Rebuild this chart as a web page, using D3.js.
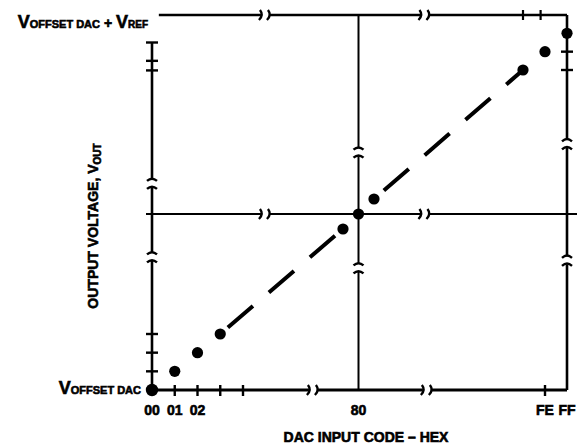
<!DOCTYPE html>
<html>
<head>
<meta charset="utf-8">
<script src="https://cdn.jsdelivr.net/npm/d3@7"></script>
<style>
  body { margin: 0; background: #fff; }
  svg text { font-family: "Liberation Sans", Arial, sans-serif; font-weight: bold; fill: #000;
             stroke: #000; stroke-width: 0.6px; }
</style>
</head>
<body>
<div id="chart"></div>
<script>
// ---------------------------
// DATA (codes in hex, output level in LSB)
// ---------------------------
const dotCodes = [0x00, 0x01, 0x02, 0x03, 0x7F, 0x80, 0x81, 0xFD, 0xFE, 0xFF];
const dashRuns = [[0x03, 0x7F], [0x81, 0xFD]];

const xLabelCodes = [0x00, 0x01, 0x02, 0x80, 0xFE, 0xFF];
const xLabelText = ["00", "01", "02", "80", "FE", "FF"];

const bottomTickCodes = [0x01, 0x02, 0x03, 0x04, 0xFE];
const topTickCodes = [253, 253.8];
const leftTickLevels = [1, 2, 3, 252.6, 253.5, 254.5];
const rightTickLevels = [253, 254];

// axis break positions (code / level units)
const topBreaks = [31, 171];
const midBreaks = [31, 171];
const bottomBreaks = [90, 173];
const leftBreaks = [94, 144];
const rightBreaks = [90, 182];
const centerBreaks = [81, 174];

const fullScale = 0x100;
const midCode = 0x80;

// ---------------------------
// LAYOUT
// ---------------------------
const width = 587, height = 446;

const svg = d3.select("#chart").append("svg")
  .attr("width", width)
  .attr("height", height);

// broken (piecewise) scales
const x = d3.scaleLinear()
  .domain([0, 4, 0x7F, 0x81, 0xFD, 0xFF])
  .range([152, 243, 343, 374, 523, 567]);

const y = d3.scaleLinear()
  .domain([0, 3, 0x7F, 0x81, 0xFD, fullScale])
  .range([390, 334, 229, 199, 70, 15]);

const g = svg.append("g");

// ---------------------------
// HELPERS
// ---------------------------
const gap = 4;

// horizontal line at py from x0 to x1, split at break positions (px)
function hLine(py, x0, x1, breaksPx, sw) {
  const pts = [x0];
  breaksPx.forEach(b => { pts.push(b - gap, b + gap); });
  pts.push(x1);
  for (let i = 0; i < pts.length; i += 2) {
    g.append("line")
      .attr("x1", pts[i]).attr("x2", pts[i + 1])
      .attr("y1", py).attr("y2", py)
      .attr("stroke", "#000").attr("stroke-width", sw);
  }
  breaksPx.forEach(b => {
    [-gap, gap].forEach(d => {
      g.append("path")
        .attr("d", `M${b + d - 2},${py + 5} Q${b + d + 3},${py} ${b + d - 1},${py - 5}`)
        .attr("fill", "none").attr("stroke", "#000").attr("stroke-width", 2.4);
    });
  });
}

// vertical line at px from y0 to y1
function vLine(px, y0, y1, breaksPx, sw) {
  const lo = Math.min(y0, y1), hi = Math.max(y0, y1);
  const pts = [lo];
  breaksPx.slice().sort((a, b) => a - b).forEach(b => { pts.push(b - gap, b + gap); });
  pts.push(hi);
  for (let i = 0; i < pts.length; i += 2) {
    g.append("line")
      .attr("x1", px).attr("x2", px)
      .attr("y1", pts[i]).attr("y2", pts[i + 1])
      .attr("stroke", "#000").attr("stroke-width", sw);
  }
  breaksPx.forEach(b => {
    [-gap, gap].forEach(d => {
      g.append("path")
        .attr("d", `M${px - 5},${b + d + 1.5} Q${px},${b + d - 3} ${px + 5},${b + d + 1.5}`)
        .attr("fill", "none").attr("stroke", "#000").attr("stroke-width", 2.4);
    });
  });
}

// ---------------------------
// FRAME + GRID LINES
// ---------------------------
vLine(x(0), y(0), y(254.5), leftBreaks.map(y), 2.6);
hLine(y(0), x(0), x(0xFF), bottomBreaks.map(x), 2.8);
vLine(x(0xFF), y(0), y(fullScale), rightBreaks.map(y), 2.6);
hLine(y(fullScale), x(0.3), x(0xFF), topBreaks.map(x), 2.6);
vLine(x(midCode), y(0), y(fullScale), centerBreaks.map(y), 2);
hLine(y(midCode), x(0) - 6, x(0xFF) + 10, midBreaks.map(x), 2);

// ticks
g.selectAll(".tick-b").data(bottomTickCodes).join("line")
  .attr("x1", d => x(d)).attr("x2", d => x(d))
  .attr("y1", y(0) - 5).attr("y2", y(0) + 6)
  .attr("stroke", "#000").attr("stroke-width", 2.4);

g.selectAll(".tick-t").data(topTickCodes).join("line")
  .attr("x1", d => x(d)).attr("x2", d => x(d))
  .attr("y1", y(fullScale) - 5).attr("y2", y(fullScale) + 5)
  .attr("stroke", "#000").attr("stroke-width", 2.2);

g.selectAll(".tick-l").data(leftTickLevels).join("line")
  .attr("x1", x(0) - 6).attr("x2", x(0) + 6)
  .attr("y1", d => y(d)).attr("y2", d => y(d))
  .attr("stroke", "#000").attr("stroke-width", 2.4);

g.selectAll(".tick-r").data(rightTickLevels).join("line")
  .attr("x1", x(0xFF) - 6).attr("x2", x(0xFF) + 6)
  .attr("y1", d => y(d)).attr("y2", d => y(d))
  .attr("stroke", "#000").attr("stroke-width", 2.4);

// ---------------------------
// DASHED TRANSFER LINE + DOTS
// ---------------------------
const line = d3.line().x(d => x(d)).y(d => y(d));
const dashOffsets = [44, 41];

g.selectAll(".dash").data(dashRuns).join("path")
  .attr("d", d => line(d))
  .attr("fill", "none")
  .attr("stroke", "#000")
  .attr("stroke-width", 4)
  .attr("stroke-dasharray", "33,21")
  .attr("stroke-dashoffset", (d, i) => dashOffsets[i]);

g.selectAll(".dot").data(dotCodes).join("circle")
  .attr("cx", d => x(d))
  .attr("cy", d => y(d))
  .attr("r", d => d === 0 ? 6.2 : 5.6)
  .attr("fill", "#000");

// ---------------------------
// TEXT
// ---------------------------
g.selectAll(".xlab").data(xLabelCodes).join("text")
  .attr("x", d => x(d))
  .attr("y", 415)
  .attr("text-anchor", "middle")
  .style("font-size", "14px")
  .text((d, i) => xLabelText[i]);

g.append("text")
  .attr("x", 366).attr("y", 442)
  .attr("text-anchor", "middle")
  .style("font-size", "14px")
  .text("DAC INPUT CODE \u2013 HEX");

const yt = g.append("text")
  .attr("transform", `translate(98,${226}) rotate(-90)`)
  .attr("text-anchor", "middle")
  .style("font-size", "14px");
yt.append("tspan").text("OUTPUT VOLTAGE, V");
yt.append("tspan").attr("dy", 3).style("font-size", "10px").text("OUT");

// top-left: V_OFFSET DAC + V_REF
const tl = g.append("text")
  .attr("x", 148).attr("y", 28)
  .attr("text-anchor", "end");
tl.append("tspan").style("font-size", "18px").text("V");
tl.append("tspan").style("font-size", "11px").text("OFFSET DAC");
tl.append("tspan").style("font-size", "14px").text(" + ");
tl.append("tspan").style("font-size", "18px").text("V");
tl.append("tspan").style("font-size", "10px").text("REF");

// bottom-left: V_OFFSET DAC
const bl = g.append("text")
  .attr("x", 141).attr("y", 394)
  .attr("text-anchor", "end");
bl.append("tspan").style("font-size", "18px").text("V");
bl.append("tspan").style("font-size", "11px").text("OFFSET DAC");
</script>
</body>
</html>
